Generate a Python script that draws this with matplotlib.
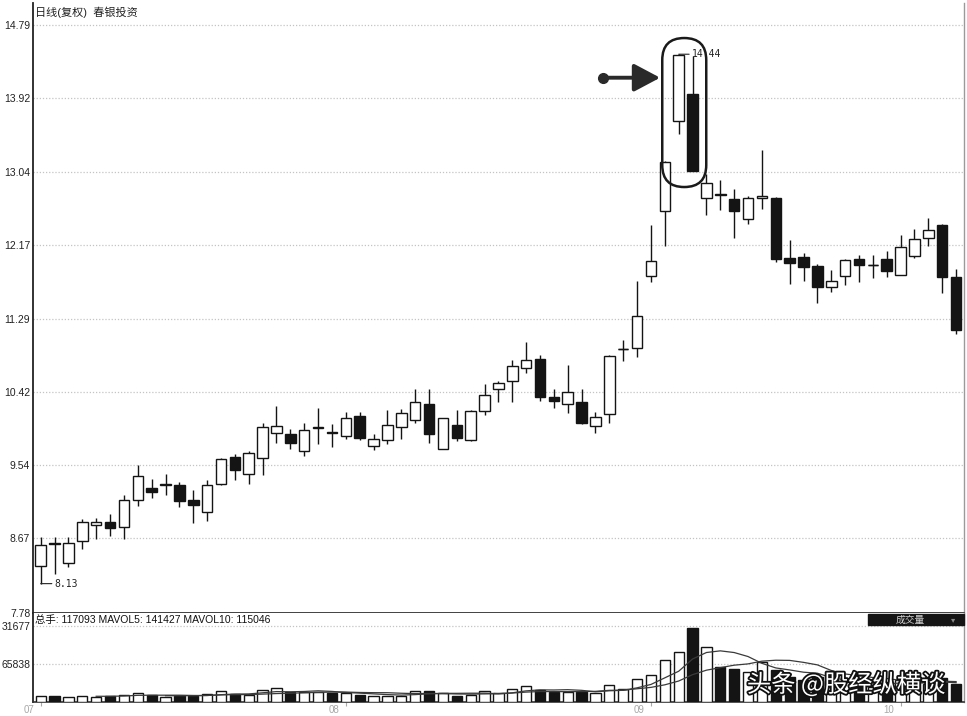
import numpy as np
import pandas as pd
import matplotlib
matplotlib.use('Agg')
import matplotlib.pyplot as plt
from matplotlib.patches import FancyBboxPatch, Rectangle
import matplotlib.transforms as mtransforms
import matplotlib.patheffects as pe

plt.rcParams['font.family'] = ['Liberation Sans', 'Noto Sans CJK SC', 'DejaVu Sans']

# ---------------- data ----------------
opens = [8.34, 8.61, 8.38, 8.64, 8.83, 8.86, 8.81, 9.13, 9.27, 9.31,
         9.30, 9.13, 8.98, 9.32, 9.64, 9.44, 9.63, 9.93, 9.91, 9.71,
         9.99, 9.94, 9.89, 10.13, 9.77, 9.84, 10.00, 10.08, 10.27, 9.74,
         10.02, 9.84, 10.19, 10.45, 10.54, 10.70, 10.81, 10.35, 10.27, 10.30,
         10.01, 10.15, 10.93, 10.94, 11.80, 12.57, 13.65, 13.97, 12.73, 12.77,
         12.72, 12.48, 12.73, 12.73, 12.01, 12.02, 11.92, 11.66, 11.80, 12.00,
         11.93, 12.00, 11.81, 12.04, 12.25, 12.41, 11.78]
highs = [8.69, 8.69, 8.69, 8.90, 8.91, 8.96, 9.19, 9.54, 9.38, 9.44,
         9.34, 9.25, 9.36, 9.63, 9.67, 9.71, 10.04, 10.25, 9.97, 10.05,
         10.22, 10.03, 10.17, 10.17, 9.91, 10.20, 10.21, 10.45, 10.45, 10.11,
         10.20, 10.20, 10.51, 10.54, 10.79, 11.01, 10.85, 10.45, 10.73, 10.45,
         10.18, 10.86, 11.03, 11.74, 12.41, 13.17, 14.44, 14.42, 13.01, 12.94,
         12.83, 12.75, 13.30, 12.74, 12.22, 12.07, 11.94, 11.87, 12.00, 12.05,
         12.05, 12.09, 12.28, 12.36, 12.49, 12.42, 11.88]
lows = [8.13, 8.25, 8.33, 8.54, 8.66, 8.70, 8.66, 9.06, 9.15, 9.19,
        9.04, 8.85, 8.88, 9.31, 9.37, 9.32, 9.42, 9.81, 9.73, 9.65,
        9.80, 9.76, 9.85, 9.84, 9.72, 9.80, 9.85, 10.05, 9.81, 9.74,
        9.83, 9.83, 10.14, 10.29, 10.29, 10.64, 10.31, 10.22, 10.16, 10.03,
        9.93, 10.04, 10.78, 10.83, 11.72, 12.15, 13.49, 13.05, 12.52, 12.58,
        12.25, 12.42, 12.60, 11.96, 11.70, 11.74, 11.47, 11.61, 11.69, 11.73,
        11.77, 11.79, 11.81, 12.01, 12.15, 11.59, 11.11]
closes = [8.59, 8.60, 8.62, 8.86, 8.86, 8.79, 9.13, 9.41, 9.22, 9.32,
          9.11, 9.07, 9.30, 9.61, 9.48, 9.69, 10.00, 10.01, 9.81, 9.96,
          10.00, 9.93, 10.10, 9.86, 9.85, 10.02, 10.16, 10.30, 9.91, 10.10,
          9.86, 10.19, 10.38, 10.52, 10.72, 10.79, 10.35, 10.31, 10.42, 10.04,
          10.12, 10.84, 10.93, 11.32, 11.97, 13.16, 14.43, 13.05, 12.90, 12.76,
          12.57, 12.73, 12.75, 12.00, 11.95, 11.90, 11.66, 11.74, 11.99, 11.93,
          11.93, 11.86, 12.14, 12.24, 12.34, 11.78, 11.15]
volumes = [10400, 10400, 9200, 10400, 9200, 10400, 12700, 15100, 11600, 9200,
           10400, 10400, 14400, 19100, 14400, 11600, 20300, 24800, 17300, 17300,
           17300, 15100, 15100, 12100, 10900, 10900, 10900, 19100, 19100, 15100,
           10900, 12100, 19100, 15100, 22500, 27700, 20800, 17900, 17900, 16800,
           15100, 29500, 22000, 39300, 46300, 72300, 86700, 128200, 95300, 60700,
           57700, 52000, 69300, 55500, 43300, 38100, 43300, 31200, 34700, 31200,
           26000, 34700, 38100, 34700, 31200, 41600, 31200]

price_ticks = [7.78, 8.67, 9.54, 10.42, 11.29, 12.17, 13.04, 13.92, 14.79]
vol_ticks = [65838, 131677]
vol_tick_labels = ['65838', '31677']
month_labels = ['07', '08', '09', '10']
month_start_idx = [0, 22, 44, 62]
title_text = '日线(复权)  春银投资'
vol_header = '总手: 117093 MAVOL5: 141427 MAVOL10: 115046'
vol_box_label = '成交量'
watermark = '头条 @股经纵横谈'

# ---------------- figure ----------------
W, H = 967, 716
fig = plt.figure(figsize=(W / 100, H / 100), dpi=100)
fig.patch.set_facecolor('white')


def fr(x0, y0, x1, y1):
    return [x0 / W, 1 - y1 / H, (x1 - x0) / W, (y1 - y0) / H]


ax = fig.add_axes(fr(33, 3, 964, 613))
axv = fig.add_axes(fr(33, 613, 964, 702), sharex=ax)

ink = '#141414'
grid_c = '#c4c4c4'
o = np.array(opens); h = np.array(highs); l = np.array(lows); c = np.array(closes)
v = np.array(volumes)
n = len(o)
x = np.arange(n)
up = c >= o

# candles
ax.vlines(x, l, h, color=ink, lw=1.0, zorder=2)
ax.bar(x, np.abs(c - o), bottom=np.minimum(o, c), width=0.76,
       color=np.where(up, 'white', ink), edgecolor=ink, linewidth=1.0, zorder=3)
doji = np.abs(c - o) < 0.005
ax.hlines(c[doji], x[doji] - 0.38, x[doji] + 0.38, color=ink, lw=1.0, zorder=4)

ax.set_xlim(-0.555, 66.57)
ax.set_ylim(7.78, 7.78 + 610 / 83.9)
ax.set_yticks(price_ticks)
ax.set_yticklabels([f'{t:.2f}' for t in price_ticks])
for t in price_ticks[1:]:
    ax.axhline(t, color=grid_c, lw=0.9, ls=(0, (1, 1.5)), zorder=0)
ax.tick_params(axis='y', length=0, pad=2, labelsize=7.5, labelcolor='#222')
ax.tick_params(axis='x', length=0, labelbottom=False)
for s in ['top']:
    ax.spines[s].set_visible(False)
ax.spines['left'].set_color('#222'); ax.spines['left'].set_linewidth(1.3)
ax.spines['right'].set_color('#9a9a9a'); ax.spines['right'].set_linewidth(1.0)
ax.spines['bottom'].set_color('#333'); ax.spines['bottom'].set_linewidth(1.3)

ax.text(2 / 931, (613 - 12) / 610, title_text, transform=ax.transAxes,
        fontsize=8, color='#222', va='center', ha='left')

# extreme annotations
imin = int(np.argmin(l)); imax = int(np.argmax(h))
ax.annotate(f'{l[imin]:.2f}', xy=(imin, l[imin]), xytext=(10, 0),
            textcoords='offset points', va='center', ha='left', fontsize=7,
            family='DejaVu Sans Mono', color='#222',
            arrowprops=dict(arrowstyle='-', lw=0.8, color='#222', shrinkA=0, shrinkB=0))
ax.annotate(f'{h[imax]:.2f}', xy=(imax, h[imax]), xytext=(9.5, 0),
            textcoords='offset points', va='center', ha='left', fontsize=7,
            family='DejaVu Sans Mono', color='#222',
            arrowprops=dict(arrowstyle='-', lw=0.8, color='#222', shrinkA=0, shrinkB=0))

# highlight (rounded outline around the two top candles)
cx = imax + 0.4
cy = (h[imax] + c[imax + 1]) / 2
tr = fig.dpi_scale_trans + mtransforms.ScaledTranslation(cx, cy, ax.transData)
box = FancyBboxPatch((-0.22, -0.745), 0.44, 1.49,
                     boxstyle='round,pad=0,rounding_size=0.22',
                     transform=tr, fill=False, ec='#1a1a1a', lw=1.8, zorder=5)
ax.add_patch(box)

# pointing arrow
tip = (imax - 1.34, 14.16)
tail = (imax - 5.45, 14.16)
ax.annotate('', xy=tip, xytext=tail,
            arrowprops=dict(arrowstyle='-|>,head_length=1.6,head_width=0.85',
                            lw=2.8, color='#2a2a2a', shrinkA=0, shrinkB=0), zorder=6)
ax.plot([tail[0]], [tail[1]], 'o', ms=7, color='#2a2a2a', zorder=6)

# ---------------- volume ----------------
axv.bar(x, v, width=0.74, color=np.where(up, 'white', ink), edgecolor=ink,
        linewidth=1.0, zorder=3)
ma5 = pd.Series(v).rolling(5).mean()
ma10 = pd.Series(v).rolling(10).mean()
axv.plot(x, ma5, color='#3a3a3a', lw=0.9, zorder=4)
axv.plot(x, ma10, color='#3a3a3a', lw=0.9, zorder=4)
axv.set_ylim(0, 89 * 1733)
axv.set_yticks(vol_ticks)
axv.set_yticklabels(vol_tick_labels)
for t in vol_ticks:
    axv.axhline(t, color=grid_c, lw=0.9, ls=(0, (1, 1.5)), zorder=0)
axv.tick_params(axis='y', length=0, pad=2, labelsize=7.5, labelcolor='#222')
axv.set_xticks(month_start_idx)
axv.set_xticklabels([''] * len(month_start_idx))
axv.tick_params(axis='x', length=3, color='#aaaaaa', width=0.8)
axv.spines['top'].set_visible(False)
axv.spines['left'].set_color('#222'); axv.spines['left'].set_linewidth(1.3)
axv.spines['right'].set_color('#9a9a9a'); axv.spines['right'].set_linewidth(1.0)
axv.spines['bottom'].set_color('#333'); axv.spines['bottom'].set_linewidth(1.2)

btr = mtransforms.blended_transform_factory(axv.transData, axv.transAxes)
for idx, lab in zip(month_start_idx, month_labels):
    axv.text(idx - 0.85, -(710 - 702) / 89, lab, transform=btr, ha='center',
             va='center', fontsize=7, color='#a8a8a8', clip_on=False)

axv.text(2 / 931, (702 - 620) / 89, vol_header, transform=axv.transAxes,
         fontsize=7.5, color='#111', va='center', ha='left', zorder=6)

fig.add_artist(Rectangle((868 / W, 1 - 625 / H), 96 / W, 11 / H,
                         transform=fig.transFigure, color='#151515'))
fig.text(910 / W, 1 - 619.5 / H, vol_box_label, fontsize=7, color='#d0d0d0',
         ha='center', va='center')
fig.text(953 / W, 1 - 619.5 / H, '▾', fontsize=6, color='#888888',
         ha='center', va='center', family='DejaVu Sans')

fig.text(846 / W, 1 - 685 / H, watermark, fontsize=17.5, color='white',
         family=['Noto Sans CJK SC', 'DejaVu Sans'], ha='center', va='center',
         zorder=10,
         path_effects=[pe.withStroke(linewidth=2.6, foreground='#111111')])

fig.savefig('out.png', dpi=100, facecolor='white')
